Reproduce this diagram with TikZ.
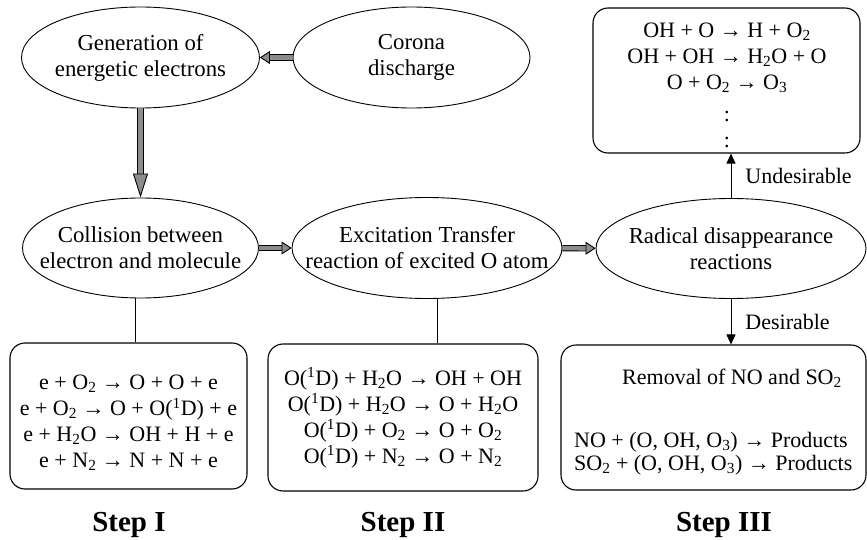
\documentclass[tikz,border=0pt]{standalone}
\usepackage{fontspec}
\setmainfont{Liberation Serif}
\usetikzlibrary{shapes.geometric,arrows.meta,positioning}
\colorlet{arrowgray}{gray!90}
\newcommand{\chsub}[1]{\textsubscript{#1}}
\newcommand{\chsup}[1]{\textsuperscript{#1}}
\begin{document}
\begin{tikzpicture}[x=1pt,y=-1pt,
    font=\fontsize{22}{26}\selectfont,
    ell/.style={
        draw,
        ellipse,
        line width=0.9pt,
        inner sep=0pt
    },
    elltext/.style={
        align=center,
        font=\fontsize{22.8}{26}\selectfont
    },
    rbox/.style={
        draw,
        rounded corners=15pt,
        line width=1.1pt
    },
    eqs/.style={
        align=center,
        inner sep=0pt
    },
    fatarrow/.style={
        line width=0.9pt,
        double=arrowgray,
        double distance=4.5pt,
        -{Triangle[open,fill=arrowgray,length=10pt,width=13pt]}
    },
    thinarrow/.style={
        line width=0.9pt,
        -{Triangle[length=10pt,width=9pt]}
    },
    steplabel/.style={font=\fontsize{29}{32}\selectfont\bfseries}
    ]
    \useasboundingbox (0,0) rectangle (867,540);
    % upper row
    \node[ell,minimum width=238,minimum height=101,
        label={[elltext]center:Generation of\\energetic electrons}] 
        (gen) at (140.5,57.5) {};
    \node[ell,minimum width=237,minimum height=101,
        label={[elltext]center:Corona\\discharge}] 
        (cor) at (411.5,57.5) {};
    % middle row
    \node[ell,minimum width=236,minimum height=100,
        label={[elltext]center:Collision between\\electron and molecule}] 
        (col) at (140.5,248) {};
    \node[ell,minimum width=270,minimum height=101,
        label={[elltext]center:Excitation Transfer\\reaction of excited O atom}] 
        (exc) at (427,248) {};
    \node[ell,minimum width=270,minimum height=100,
        label={[elltext]center:Radical disappearance\\reactions}] 
        (rad) at (731,248.5) {};
    % reaction boxes
    \node[rbox,minimum width=267,minimum height=145] (undes) at (726.5,80.5) {};
    \node[eqs] (undeseq) at (727,85) 
        {OH + O → H + O\chsub{2}\\OH + OH → H\chsub{2}O + O\\O + O\chsub{2} → O\chsub{3}\\[6pt]:\\:};
    \node[rbox,minimum width=237,minimum height=146] (box1) at (128.5,416) {};
    \node[eqs] (eq1) at (128.5,423) 
        {e + O\chsub{2} → O + O + e\\e + O\chsub{2} → O + O(\chsup{1}D) + e\\
         e + H\chsub{2}O → OH + H + e\\e + N\chsub{2} → N + N + e};
    \node[rbox,minimum width=270,minimum height=147] (box2) at (403,417.5) {};
    \node[eqs] (eq2) at (403,418) 
        {O(\chsup{1}D) + H\chsub{2}O → OH + OH\\O(\chsup{1}D) + H\chsub{2}O → O + H\chsub{2}O\\
         O(\chsup{1}D) + O\chsub{2} → O + O\chsub{2}\\O(\chsup{1}D) + N\chsub{2} → O + N\chsub{2}};
    \node[rbox,minimum width=305,minimum height=145] (box3) at (713.5,417.5) {};
    \node[eqs] (removal) at (732,378) {Removal of NO and SO\chsub{2}};
    \node[eqs,anchor=west,align=left,font=\fontsize{22}{23}\selectfont] (prod) at (574,454) 
        {NO + (O, OH, O\chsub{3}) → Products\\SO\chsub{2} + (O, OH, O\chsub{3}) → Products};
    % step labels
    \node[steplabel,anchor=base] (s1) at (129,531) {Step I};
    \node[steplabel,anchor=base] (s2) at (403,531) {Step II};
    \node[steplabel,anchor=base] (s3) at (724,531) {Step III};
    % connectors
    \draw[fatarrow] (cor) -- (gen);
    \draw[fatarrow,-{Triangle[open,fill=arrowgray,length=24pt,width=15pt]}] (gen) -- (col);
    \draw[fatarrow] (col) -- (exc);
    \draw[fatarrow] (exc) -- (rad);
    \draw[line width=0.9pt] ([xshift=-5.5pt]col.south) -- ([xshift=6.5pt]box1.north);
    \draw[line width=0.9pt] ([xshift=10pt]exc.south) -- ([xshift=34pt]box2.north);
    \draw[thinarrow] (rad.north) -- (rad.north |- undes.south)
        node[midway,right=11pt,inner sep=3pt] {Undesirable};
    \draw[thinarrow] (rad.south) -- (rad.south |- box3.north)
        node[midway,right=11pt,inner sep=3pt] {Desirable};
\end{tikzpicture}
\end{document}
